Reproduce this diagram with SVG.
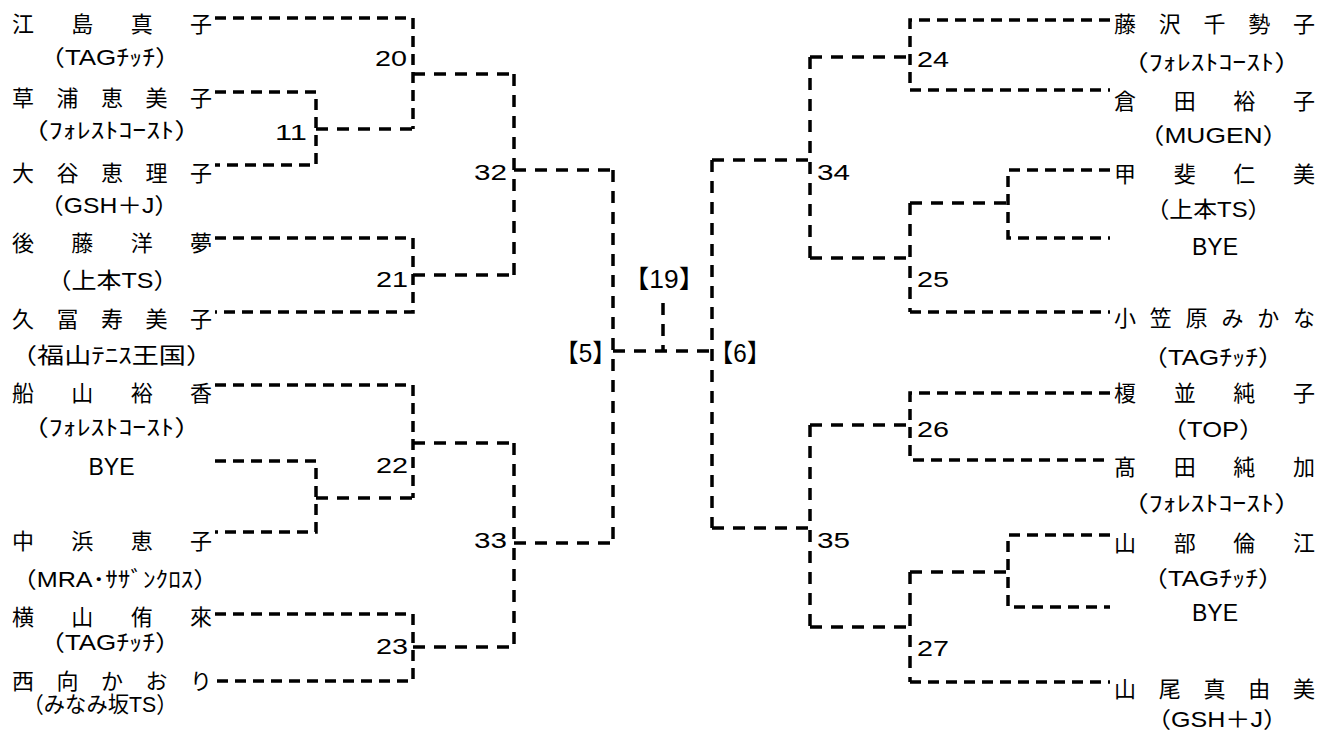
<svg xmlns="http://www.w3.org/2000/svg" width="1318" height="733" viewBox="0 0 1318 733">
<style>
.nm{font-family:"Noto Sans CJK JP",sans-serif;font-size:22px;fill:#000}
.tm{font-family:"Liberation Sans","Noto Sans CJK JP",sans-serif;font-size:22px;fill:#000;text-anchor:middle}
.bye{font-family:"Liberation Sans",sans-serif;font-size:23px;fill:#000;text-anchor:middle}
.num{font-family:"Liberation Sans",sans-serif;font-size:22px;fill:#000}
.br{font-family:"Liberation Sans","Noto Sans CJK JP",sans-serif;font-size:25px;fill:#000;text-anchor:middle}
.ln{fill:none;stroke:#000;stroke-width:3.5;stroke-dasharray:11 7}
.ln2{fill:none;stroke:#000;stroke-width:3.5;stroke-dasharray:12 9}
</style>
<rect width="1318" height="733" fill="#fff"/>
<g id="connectors">
<path class="ln" d="M215,18 H413 V129"/>
<path class="ln" d="M215,92 H316 V165 H215"/>
<path class="ln2" d="M316,129 H413"/>
<path class="ln2" d="M413,74 H514"/>
<path class="ln" d="M215,238 H413 V312 H215"/>
<path class="ln2" d="M413,275 H514"/>
<path class="ln2" d="M514,74 V275"/>
<path class="ln2" d="M514,170 H613"/>
<path class="ln" d="M215,385 H413 V498"/>
<path class="ln" d="M215,461 H316 V532 H215"/>
<path class="ln2" d="M316,498 H413"/>
<path class="ln2" d="M413,443 H514"/>
<path class="ln" d="M215,614 H413 V681 H215"/>
<path class="ln2" d="M413,647 H514"/>
<path class="ln2" d="M514,443 V647"/>
<path class="ln2" d="M514,543 H613"/>
<path class="ln2" d="M613,170 V543"/>
<path class="ln2" d="M613,351 H712"/>
<path class="ln2" d="M663,303 V351"/>
<path class="ln2" d="M712,160 V528"/>
<path class="ln2" d="M712,160 H810"/>
<path class="ln2" d="M712,528 H810"/>
<path class="ln2" d="M810,57 V258"/>
<path class="ln2" d="M810,57 H910"/>
<path class="ln2" d="M810,258 H910"/>
<path class="ln" d="M1110,20 H910 V90 H1110"/>
<path class="ln2" d="M910,203 V312"/>
<path class="ln" d="M910,312 H1110"/>
<path class="ln2" d="M910,203 H1008"/>
<path class="ln" d="M1110,170 H1008 V238 H1110"/>
<path class="ln2" d="M810,425 V627"/>
<path class="ln2" d="M810,425 H910"/>
<path class="ln2" d="M810,627 H910"/>
<path class="ln" d="M1110,393 H910 V460 H1110"/>
<path class="ln2" d="M910,572 V682"/>
<path class="ln" d="M910,682 H1110"/>
<path class="ln2" d="M910,572 H1008"/>
<path class="ln" d="M1110,535 H1008 V607 H1110"/>
</g>
<g id="p-L1"><text class="nm" x="12 71.3 130.7 190" y="31.5">江島真子</text><text class="tm" x="110" y="65" textLength="142" lengthAdjust="spacingAndGlyphs">（TAGﾁｯﾁ）</text></g>
<g id="p-L2"><text class="nm" x="12 56.5 101 145.5 190" y="105.5">草浦恵美子</text><text class="tm" x="111.5" y="138" textLength="181" lengthAdjust="spacingAndGlyphs">（ﾌｫﾚｽﾄｺｰｽﾄ）</text></g>
<g id="p-L3"><text class="nm" x="12 56.5 101 145.5 190" y="180.5">大谷恵理子</text><text class="tm" x="109" y="213" textLength="140" lengthAdjust="spacingAndGlyphs">（GSH＋J）</text></g>
<g id="p-L4"><text class="nm" x="12 71.3 130.7 190" y="250.5">後藤洋夢</text><text class="tm" x="112.5" y="288" textLength="132" lengthAdjust="spacingAndGlyphs">（上本TS）</text></g>
<g id="p-L5"><text class="nm" x="12 56.5 101 145.5 190" y="327">久冨寿美子</text><text class="tm" x="111.5" y="363" textLength="203" lengthAdjust="spacingAndGlyphs">（福山ﾃﾆｽ王国）</text></g>
<g id="p-L6"><text class="nm" x="12 71.3 130.7 190" y="400.5">船山裕香</text><text class="tm" x="111.5" y="435" textLength="181" lengthAdjust="spacingAndGlyphs">（ﾌｫﾚｽﾄｺｰｽﾄ）</text></g>
<g id="p-L7"><text class="bye" x="111.5" y="475">BYE</text></g>
<g id="p-L8"><text class="nm" x="12 71.3 130.7 190" y="548.5">中浜恵子</text><text class="tm" x="115" y="587" textLength="207" lengthAdjust="spacingAndGlyphs">（MRA･ｻｻﾞﾝｸﾛｽ）</text></g>
<g id="p-L9"><text class="nm" x="12 71.3 130.7 190" y="624.5">横山侑來</text><text class="tm" x="110" y="650" textLength="142" lengthAdjust="spacingAndGlyphs">（TAGﾁｯﾁ）</text></g>
<g id="p-L10"><text class="nm" x="12 56.5 101 145.5 190" y="688.5">西向かおり</text><text class="tm" x="100" y="712" textLength="155" lengthAdjust="spacingAndGlyphs">（みなみ坂TS）</text></g>
<g id="p-R1"><text class="nm" x="1114 1158.75 1203.5 1248.25 1293" y="31.5">藤沢千勢子</text><text class="tm" x="1211.5" y="70" textLength="181" lengthAdjust="spacingAndGlyphs">（ﾌｫﾚｽﾄｺｰｽﾄ）</text></g>
<g id="p-R2"><text class="nm" x="1114 1173.7 1233.3 1293" y="109">倉田裕子</text><text class="tm" x="1213.5" y="143" textLength="151" lengthAdjust="spacingAndGlyphs">（MUGEN）</text></g>
<g id="p-R3"><text class="nm" x="1114 1173.7 1233.3 1293" y="181.5">甲斐仁美</text><text class="tm" x="1208.5" y="217" textLength="126" lengthAdjust="spacingAndGlyphs">（上本TS）</text></g>
<g id="p-R4"><text class="bye" x="1215" y="255">BYE</text></g>
<g id="p-R5"><text class="nm" x="1114 1149.8 1185.6 1221.4 1257.2 1293" y="326">小笠原みかな</text><text class="tm" x="1213" y="365" textLength="142" lengthAdjust="spacingAndGlyphs">（TAGﾁｯﾁ）</text></g>
<g id="p-R6"><text class="nm" x="1114 1173.7 1233.3 1293" y="401">榎並純子</text><text class="tm" x="1213" y="437" textLength="103" lengthAdjust="spacingAndGlyphs">（TOP）</text></g>
<g id="p-R7"><text class="nm" x="1114 1173.7 1233.3 1293" y="475">髙田純加</text><text class="tm" x="1211.5" y="511" textLength="181" lengthAdjust="spacingAndGlyphs">（ﾌｫﾚｽﾄｺｰｽﾄ）</text></g>
<g id="p-R8"><text class="nm" x="1114 1173.7 1233.3 1293" y="550.5">山部倫江</text><text class="tm" x="1213" y="586" textLength="142" lengthAdjust="spacingAndGlyphs">（TAGﾁｯﾁ）</text></g>
<g id="p-R9"><text class="bye" x="1215" y="621">BYE</text></g>
<g id="p-R10"><text class="nm" x="1114 1158.75 1203.5 1248.25 1293" y="696.5">山尾真由美</text><text class="tm" x="1217" y="727" textLength="142" lengthAdjust="spacingAndGlyphs">（GSH＋J）</text></g>
<g id="m11"><text class="num" x="275" y="140" textLength="32" lengthAdjust="spacingAndGlyphs">11</text></g>
<g id="m20"><text class="num" x="375" y="66" textLength="32" lengthAdjust="spacingAndGlyphs">20</text></g>
<g id="m21"><text class="num" x="376" y="287" textLength="32" lengthAdjust="spacingAndGlyphs">21</text></g>
<g id="m22"><text class="num" x="376" y="473" textLength="32" lengthAdjust="spacingAndGlyphs">22</text></g>
<g id="m23"><text class="num" x="376" y="654" textLength="32" lengthAdjust="spacingAndGlyphs">23</text></g>
<g id="m32"><text class="num" x="474" y="180" textLength="33" lengthAdjust="spacingAndGlyphs">32</text></g>
<g id="m33"><text class="num" x="474" y="548" textLength="33" lengthAdjust="spacingAndGlyphs">33</text></g>
<g id="m24"><text class="num" x="917" y="67" textLength="32" lengthAdjust="spacingAndGlyphs">24</text></g>
<g id="m25"><text class="num" x="917" y="287" textLength="32" lengthAdjust="spacingAndGlyphs">25</text></g>
<g id="m26"><text class="num" x="917" y="437" textLength="32" lengthAdjust="spacingAndGlyphs">26</text></g>
<g id="m27"><text class="num" x="917" y="656" textLength="32" lengthAdjust="spacingAndGlyphs">27</text></g>
<g id="m34"><text class="num" x="817" y="180" textLength="33" lengthAdjust="spacingAndGlyphs">34</text></g>
<g id="m35"><text class="num" x="817" y="548" textLength="33" lengthAdjust="spacingAndGlyphs">35</text></g>
<g id="m5"><text class="br" x="585.5" y="362" textLength="62" lengthAdjust="spacingAndGlyphs">【5】</text></g>
<g id="m6"><text class="br" x="740" y="362" textLength="62" lengthAdjust="spacingAndGlyphs">【6】</text></g>
<g id="m19"><text class="br" x="664" y="288" textLength="82" lengthAdjust="spacingAndGlyphs">【19】</text></g>
</svg>
